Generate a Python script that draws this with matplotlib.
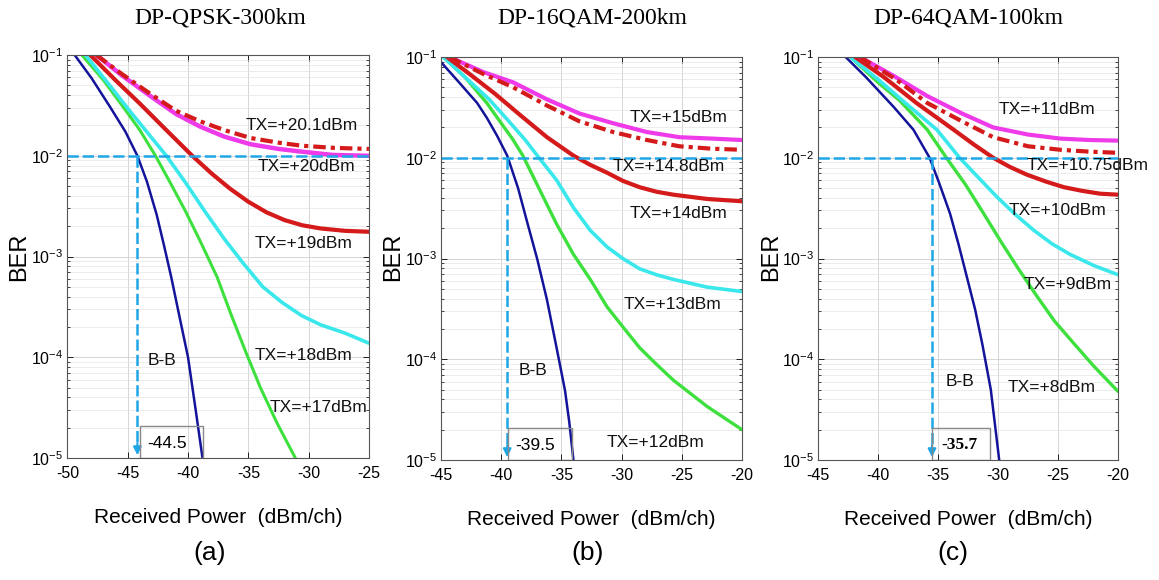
import matplotlib
matplotlib.use("Agg")
import matplotlib.pyplot as plt
from matplotlib.patches import Rectangle
from matplotlib.ticker import LogLocator, FixedLocator

plt.rcParams['font.family'] = ['Liberation Sans', 'DejaVu Sans']
plt.rcParams['mathtext.fontset'] = 'custom'
plt.rcParams['mathtext.rm'] = 'Liberation Sans'
plt.rcParams['mathtext.it'] = 'Liberation Sans'
plt.rcParams['axes.unicode_minus'] = False

# =========================
# DATA
# =========================
titles = ["DP-QPSK-300km", "DP-16QAM-200km", "DP-64QAM-100km"]
panel_tags = ["(a)", "(b)", "(c)"]
x_limits = [(-50, -25), (-45, -20), (-45, -20)]
x_ticks = [[-50, -45, -40, -35, -30, -25], [-45, -40, -35, -30, -25, -20], [-45, -40, -35, -30, -25, -20]]
fec_x = [-44.2, -39.5, -35.5]
fec_labels = ["-44.5", "-39.5", "-35.7"]

# (a) DP-QPSK-300km
qpsk_bb_x = [-49.4, -48.0, -46.5, -45.2, -44.2, -43.4, -42.6, -42.0, -41.4, -40.7, -40.0, -39.4, -38.8]
qpsk_bb_ber = [1.0e-1, 5.9e-2, 3.1e-2, 1.74e-2, 1.0e-2, 5.5e-3, 2.6e-3, 1.3e-3, 6.3e-4, 2.5e-4, 1.0e-4, 3.2e-5, 1.0e-5]
qpsk_17_x = [-48.8, -47.0, -45.5, -44.0, -42.7, -41.4, -40.2, -38.9, -37.6, -36.4, -35.2, -34.0, -32.6, -31.1]
qpsk_17_ber = [1.0e-1, 5.6e-2, 3.2e-2, 1.8e-2, 1.0e-2, 5.2e-3, 2.8e-3, 1.35e-3, 6.3e-4, 2.6e-4, 1.12e-4, 5.0e-5, 2.2e-5, 1.0e-5]
qpsk_18_x = [-48.5, -46.5, -45.0, -43.3, -41.8, -40.2, -38.6, -37.0, -35.4, -33.8, -32.2, -30.6, -29.0, -27.0, -25.0]
qpsk_18_ber = [1.0e-1, 5.0e-2, 2.95e-2, 1.66e-2, 1.0e-2, 5.4e-3, 2.8e-3, 1.5e-3, 8.5e-4, 5.0e-4, 3.5e-4, 2.6e-4, 2.1e-4, 1.74e-4, 1.38e-4]
qpsk_19_x = [-48.1, -46.0, -44.0, -42.0, -39.65, -38.0, -36.5, -35.0, -33.5, -32.0, -30.5, -29.0, -27.0, -25.0]
qpsk_19_ber = [1.0e-1, 5.6e-2, 3.3e-2, 1.9e-2, 1.0e-2, 6.6e-3, 4.7e-3, 3.5e-3, 2.75e-3, 2.3e-3, 2.04e-3, 1.9e-3, 1.8e-3, 1.76e-3]
qpsk_20_x = [-47.6, -45.5, -43.1, -41.0, -39.0, -37.0, -34.8, -32.5, -30.6, -28.0, -25.0]
qpsk_20_ber = [1.0e-1, 6.3e-2, 3.9e-2, 2.6e-2, 1.95e-2, 1.55e-2, 1.3e-2, 1.17e-2, 1.1e-2, 1.02e-2, 1.0e-2]
qpsk_201_ber = [1.0e-1, 6.5e-2, 4.1e-2, 2.8e-2, 2.2e-2, 1.8e-2, 1.5e-2, 1.35e-2, 1.26e-2, 1.2e-2, 1.17e-2]

# (b) DP-16QAM-200km
qam16_bb_x = [-45.0, -43.5, -42.0, -41.2, -40.35, -39.5, -38.6, -37.8, -37.0, -36.2, -35.4, -34.7, -34.35, -34.0]
qam16_bb_ber = [8.9e-2, 5.6e-2, 3.5e-2, 2.5e-2, 1.66e-2, 1.05e-2, 5.0e-3, 2.2e-3, 9.8e-4, 3.9e-4, 1.3e-4, 4.9e-5, 2.4e-5, 1.0e-5]
qam16_12_x = [-44.8, -43.0, -41.2, -39.0, -38.2, -36.8, -35.4, -34.0, -32.6, -31.2, -29.9, -28.5, -27.1, -25.7, -22.9, -20.0]
qam16_12_ber = [1.0e-1, 6.3e-2, 3.5e-2, 1.5e-2, 1.05e-2, 4.8e-3, 2.2e-3, 1.1e-3, 6.2e-4, 3.3e-4, 2.1e-4, 1.3e-4, 8.9e-5, 6.2e-5, 3.4e-5, 2.0e-5]
qam16_13_x = [-44.8, -43.0, -41.0, -39.5, -38.0, -37.0, -35.4, -34.0, -32.6, -31.2, -29.9, -28.5, -27.1, -25.7, -22.9, -20.0]
qam16_13_ber = [1.0e-1, 6.3e-2, 3.8e-2, 2.4e-2, 1.5e-2, 1.05e-2, 6.0e-3, 3.2e-3, 1.9e-3, 1.3e-3, 1.0e-3, 7.9e-4, 6.9e-4, 6.2e-4, 5.2e-4, 4.7e-4]
qam16_14_x = [-44.5, -42.5, -40.5, -38.5, -36.2, -34.0, -32.6, -31.2, -29.9, -28.5, -27.1, -25.7, -22.9, -20.0]
qam16_14_ber = [1.0e-1, 6.6e-2, 4.3e-2, 2.7e-2, 1.6e-2, 1.05e-2, 8.5e-3, 7.1e-3, 5.9e-3, 5.1e-3, 4.6e-3, 4.3e-3, 3.9e-3, 3.7e-3]
qam16_15_x = [-44.3, -41.5, -39.0, -36.2, -33.5, -30.7, -27.9, -25.2, -22.5, -20.0]
qam16_15_ber = [1.0e-1, 7.1e-2, 5.6e-2, 3.8e-2, 2.75e-2, 2.2e-2, 1.8e-2, 1.6e-2, 1.55e-2, 1.5e-2]
qam16_148_ber = [1.0e-1, 6.8e-2, 5.0e-2, 3.3e-2, 2.3e-2, 1.8e-2, 1.5e-2, 1.3e-2, 1.23e-2, 1.2e-2]

# (c) DP-64QAM-100km
qam64_bb_x = [-42.7, -41.0, -38.7, -37.05, -35.7, -34.9, -34.0, -33.3, -32.6, -31.9, -31.3, -30.6, -29.9]
qam64_bb_ber = [1.0e-1, 6.3e-2, 3.2e-2, 1.9e-2, 1.0e-2, 5.6e-3, 2.8e-3, 1.4e-3, 6.6e-4, 3.1e-4, 1.4e-4, 5.0e-5, 1.0e-5]
qam64_8_x = [-42.3, -40.0, -38.2, -35.9, -34.3, -32.7, -31.2, -29.8, -28.3, -26.8, -25.3, -23.6, -22.0, -20.0]
qam64_8_ber = [1.0e-1, 5.6e-2, 3.7e-2, 1.9e-2, 1.0e-2, 5.4e-3, 2.8e-3, 1.5e-3, 7.9e-4, 4.3e-4, 2.4e-4, 1.4e-4, 8.5e-5, 4.8e-5]
qam64_9_x = [-42.3, -40.0, -37.6, -35.1, -33.2, -31.6, -30.1, -28.5, -27.0, -25.5, -24.0, -22.0, -20.0]
qam64_9_ber = [1.0e-1, 6.0e-2, 3.4e-2, 1.9e-2, 1.0e-2, 6.3e-3, 4.1e-3, 2.7e-3, 1.9e-3, 1.4e-3, 1.1e-3, 8.5e-4, 6.9e-4]
qam64_10_x = [-41.9, -39.5, -36.8, -33.7, -32.0, -30.4, -29.0, -27.6, -26.0, -24.5, -23.0, -21.5, -20.0]
qam64_10_ber = [1.0e-1, 6.3e-2, 3.5e-2, 1.9e-2, 1.35e-2, 1.0e-2, 8.1e-3, 6.8e-3, 5.8e-3, 5.1e-3, 4.7e-3, 4.4e-3, 4.3e-3]
qam64_11_x = [-41.5, -38.5, -35.9, -33.0, -30.4, -27.5, -24.8, -22.4, -20.0]
qam64_11_ber = [1.0e-1, 6.3e-2, 4.1e-2, 2.75e-2, 2.0e-2, 1.7e-2, 1.55e-2, 1.5e-2, 1.48e-2]
qam64_1075_ber = [1.0e-1, 6.0e-2, 3.5e-2, 2.3e-2, 1.6e-2, 1.3e-2, 1.2e-2, 1.15e-2, 1.12e-2]

# =========================
# STYLE
# =========================
c_bb = '#14149a'
c_green = '#3ee03e'
c_cyan = '#3ae8ec'
c_red = '#d41a1a'
c_mag = '#ee3ae8'
c_fec = '#1ea6e6'
dashdot = (0, (3, 1.2, 1, 1.2))

panels = [
    [(qpsk_bb_x, qpsk_bb_ber, c_bb, 1.8, '-'),
     (qpsk_17_x, qpsk_17_ber, c_green, 2.2, '-'),
     (qpsk_18_x, qpsk_18_ber, c_cyan, 2.6, '-'),
     (qpsk_19_x, qpsk_19_ber, c_red, 3.0, '-'),
     (qpsk_20_x, qpsk_20_ber, c_mag, 3.2, '-'),
     (qpsk_20_x, qpsk_201_ber, c_red, 3.0, dashdot)],
    [(qam16_bb_x, qam16_bb_ber, c_bb, 1.8, '-'),
     (qam16_12_x, qam16_12_ber, c_green, 2.4, '-'),
     (qam16_13_x, qam16_13_ber, c_cyan, 2.6, '-'),
     (qam16_14_x, qam16_14_ber, c_red, 3.0, '-'),
     (qam16_15_x, qam16_15_ber, c_mag, 3.0, '-'),
     (qam16_15_x, qam16_148_ber, c_red, 3.0, dashdot)],
    [(qam64_bb_x, qam64_bb_ber, c_bb, 1.8, '-'),
     (qam64_8_x, qam64_8_ber, c_green, 2.4, '-'),
     (qam64_9_x, qam64_9_ber, c_cyan, 2.6, '-'),
     (qam64_10_x, qam64_10_ber, c_red, 3.0, '-'),
     (qam64_11_x, qam64_11_ber, c_mag, 3.0, '-'),
     (qam64_11_x, qam64_1075_ber, c_red, 3.0, dashdot)],
]

# text labels per panel: (text, x, ber)
panel_labels = [
    [("TX=+20.1dBm", -30.6, 2.0e-2), ("TX=+20dBm", -30.2, 7.8e-3), ("TX=+19dBm", -30.45, 1.35e-3),
     ("TX=+18dBm", -30.45, 1.05e-4), ("TX=+17dBm", -29.2, 3.2e-5), ("B-B", -42.2, 9.3e-5)],
    [("TX=+15dBm", -25.3, 2.5e-2), ("TX=+14.8dBm", -26.1, 8.1e-3), ("TX=+14dBm", -25.3, 2.8e-3),
     ("TX=+13dBm", -25.8, 3.5e-4), ("TX=+12dBm", -27.2, 1.5e-5), ("B-B", -37.4, 7.8e-5)],
    [("TX=+11dBm", -25.9, 3.0e-2), ("TX=+10.75dBm", -22.5, 8.3e-3), ("TX=+10dBm", -25.0, 3.0e-3),
     ("TX=+9dBm", -24.2, 5.5e-4), ("TX=+8dBm", -25.5, 5.2e-5), ("B-B", -33.2, 6.0e-5)],
]
# value box: (x0, x1, text_x)
boxes = [(-43.96, -38.8, -41.7), (-39.4, -34.1, -37.2), (-35.5, -30.7, -33.2)]

# =========================
# FIGURE
# =========================
fig = plt.figure(figsize=(11.59, 5.80), dpi=100)
lefts = [0.0582, 0.3805, 0.7058]
widths = [0.2601, 0.2597, 0.2588]
bottoms = [0.2103, 0.2069, 0.2069]
height = 0.6948
title_x = [220, 592, 968]
tag_x = [210, 588, 953]
ylab_x = [19, 393, 771]

for i in range(3):
    ax = fig.add_axes([lefts[i], bottoms[i], widths[i], height])
    ax.set_yscale('log')
    ax.set_xlim(*x_limits[i])
    ax.set_ylim(1e-5, 1e-1)

    for xs, ys, col, lw, ls in panels[i]:
        ax.plot(xs, ys, color=col, lw=lw, linestyle=ls, solid_capstyle='round')

    # FEC threshold lines
    ax.axhline(1e-2, color=c_fec, lw=1.8, dashes=(4.5, 1.6))
    ax.plot([fec_x[i], fec_x[i]], [1e-2, 1.25e-5], color=c_fec, lw=1.8, dashes=(4.5, 1.6))
    ax.annotate('', xy=(fec_x[i], 1.0e-5), xytext=(fec_x[i], 1.5e-5),
                arrowprops=dict(arrowstyle='-|>', color=c_fec, lw=1.5, mutation_scale=12))

    for txt, lx, ly in panel_labels[i]:
        ax.text(lx, ly, txt, fontsize=12.5, ha='center', va='center', color='#111111')

    x0, x1, tx = boxes[i]
    ax.add_patch(Rectangle((x0, 1e-5), x1 - x0, 10 ** -4.68 - 1e-5, fill=False,
                           edgecolor='#888888', lw=1.0, zorder=4))
    if i == 2:
        ax.text(tx, 1.4e-5, fec_labels[i], fontsize=12.5, ha='center', va='center',
                family='Liberation Serif', fontweight='bold')
    else:
        ax.text(tx, 1.4e-5, fec_labels[i], fontsize=12.5, ha='center', va='center')

    ax.xaxis.set_major_locator(FixedLocator(x_ticks[i]))
    ax.yaxis.set_major_locator(LogLocator(base=10, numticks=10))
    ax.yaxis.set_minor_locator(LogLocator(base=10, subs=range(2, 10), numticks=10))
    ax.tick_params(which='both', direction='in', top=True, right=True)
    ax.tick_params(axis='x', labelsize=11.5, pad=6)
    ax.tick_params(axis='y', labelsize=11.5, pad=3)
    ax.tick_params(which='major', length=4, width=0.6)
    ax.tick_params(which='minor', length=2, width=0.5)
    ax.grid(True, which='major', color='#cfcfcf', lw=0.6)
    ax.grid(True, which='minor', axis='y', color='#e4e4e4', lw=0.5)
    for sp in ax.spines.values():
        sp.set_color('#555555')
        sp.set_linewidth(0.8)

    ax.set_xlabel("Received Power  (dBm/ch)", fontsize=15, labelpad=19)

    fig.text(title_x[i] / 1159, 1 - 18 / 580, titles[i], family='Liberation Serif',
             fontsize=17, ha='center', va='center')
    fig.text(ylab_x[i] / 1159, 1 - 257 / 580, "BER", fontsize=17, rotation=90,
             ha='center', va='center')
    fig.text(tag_x[i] / 1159, 1 - 553 / 580, panel_tags[i], fontsize=19,
             ha='center', va='center')

fig.savefig("out.png", dpi=100)
